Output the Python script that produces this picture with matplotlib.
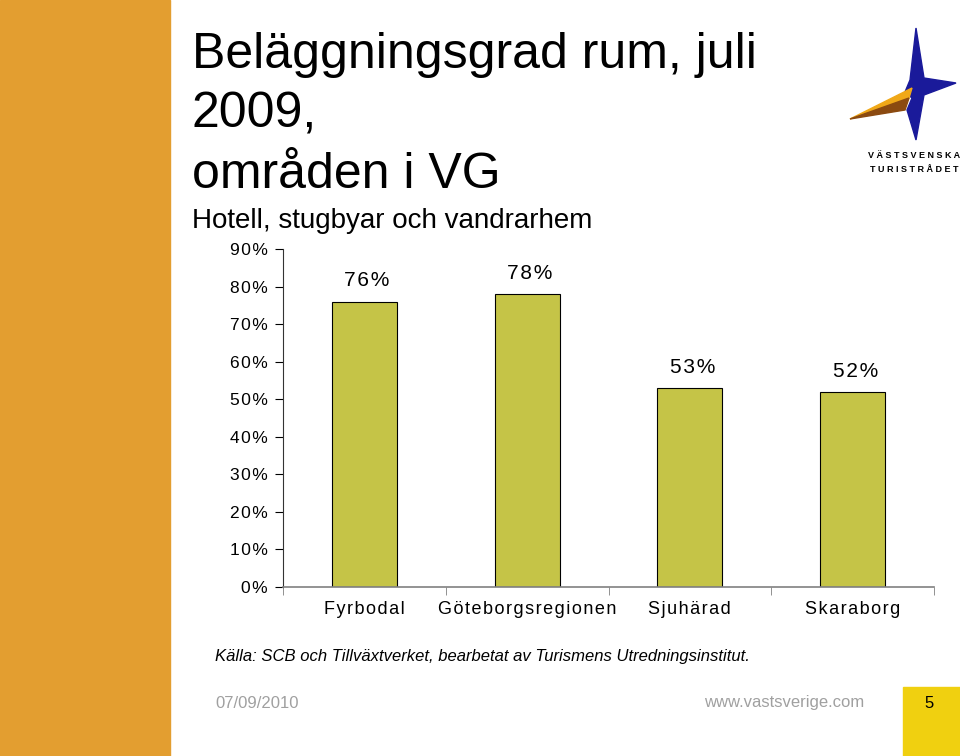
import matplotlib.pyplot as plt
from matplotlib.patches import Polygon, Rectangle
from matplotlib.ticker import FuncFormatter

plt.rcParams['font.family'] = ['Liberation Sans', 'DejaVu Sans']

regions = ['Fyrbodal', 'Göteborgsregionen', 'Sjuhärad', 'Skaraborg']
occupancy = [76, 78, 53, 52]
yticks = [0, 10, 20, 30, 40, 50, 60, 70, 80, 90]

fig = plt.figure(figsize=(9.6, 7.56), dpi=100)
W, H = 960, 756

def px(x, y):
    return (x / W, 1 - y / H)

def spaced(s):
    # the slide font is set wide, so open up the letters a little
    return '\u200a'.join(s)

# orange band on the left
fig.patches.append(Rectangle((0, 0), 170 / W, 1, transform=fig.transFigure,
                             color='#E39E30', zorder=0))

# title block
fig.text(*px(192, 55), 'Beläggningsgrad rum, juli', fontsize=36, va='center', ha='left')
fig.text(*px(192, 115), '2009,', fontsize=36, va='center', ha='left')
fig.text(*px(192, 175), 'områden i VG', fontsize=36, va='center', ha='left')
fig.text(*px(192, 221), 'Hotell, stugbyar och vandrarhem', fontsize=20, va='center', ha='left')

# logo (rough)
star = [(916, 28), (924, 78), (956, 83), (924, 95), (916, 140), (907, 110),
        (912, 98), (905, 92), (910, 80)]
fig.patches.append(Polygon([px(*p) for p in star], closed=True, transform=fig.transFigure,
                           color='#1A1A9A', zorder=2))
wing = [(850, 119), (912, 88), (909, 98)]
fig.patches.append(Polygon([px(*p) for p in wing], closed=True, transform=fig.transFigure,
                           color='#F0A818', zorder=2))
wing2 = [(850, 119), (909, 98), (905, 110)]
fig.patches.append(Polygon([px(*p) for p in wing2], closed=True, transform=fig.transFigure,
                           color='#8B4A10', zorder=2))
fig.text(*px(914, 155), 'V Ä S T S V E N S K A', fontsize=6.5, fontweight='bold',
         ha='center', va='center')
fig.text(*px(914, 170), 'T U R I S T R Å D E T', fontsize=6.5, fontweight='bold',
         ha='center', va='center')

# chart
ax = fig.add_axes([283 / W, 1 - 587 / H, (934 - 283) / W, (587 - 249) / H])
x = range(len(regions))
bars = ax.bar(x, occupancy, width=0.4, color='#C5C447', edgecolor='black', linewidth=0.8)
for xi, v in zip(x, occupancy):
    ax.annotate(spaced('%d%%' % v), (xi, v), xytext=(2, 8), textcoords='offset points',
                ha='center', va='bottom', fontsize=15)

ax.set_xlim(-0.5, len(regions) - 0.5)
ax.set_ylim(0, 90)
ax.set_yticks(yticks)
ax.yaxis.set_major_formatter(FuncFormatter(lambda v, p: spaced('%d%%' % v)))
ax.tick_params(axis='y', labelsize=12.5, length=6, direction='out', pad=5)
ax.set_xticks(x)
ax.set_xticklabels([spaced(r) for r in regions], fontsize=13)
ax.set_xticks([i - 0.5 for i in range(len(regions) + 1)], minor=True)
ax.tick_params(axis='x', which='major', length=0, pad=10)
ax.tick_params(axis='x', which='minor', length=6, color='#808080')
ax.spines['top'].set_visible(False)
ax.spines['right'].set_visible(False)
ax.spines['left'].set_color('#333333')
ax.spines['bottom'].set_color('#808080')
ax.spines['bottom'].set_linewidth(1.2)

# source and footer
fig.text(*px(215, 656), 'Källa: SCB och Tillväxtverket, bearbetat av Turismens Utredningsinstitut.',
         fontsize=12, style='italic', ha='left', va='center')
fig.text(*px(215, 703), '07/09/2010', fontsize=12, color='#A0A0A0', ha='left', va='center')
fig.text(*px(864, 703), 'www.vastsverige.com', fontsize=12, color='#A0A0A0',
         ha='right', va='center')
fig.patches.append(Rectangle(px(903, 756), 57 / W, (756 - 687) / H, transform=fig.transFigure,
                             color='#F0D010', zorder=0))
fig.text(*px(929, 703), '5', fontsize=12, ha='center', va='center')

fig.savefig('out.png', dpi=100)
